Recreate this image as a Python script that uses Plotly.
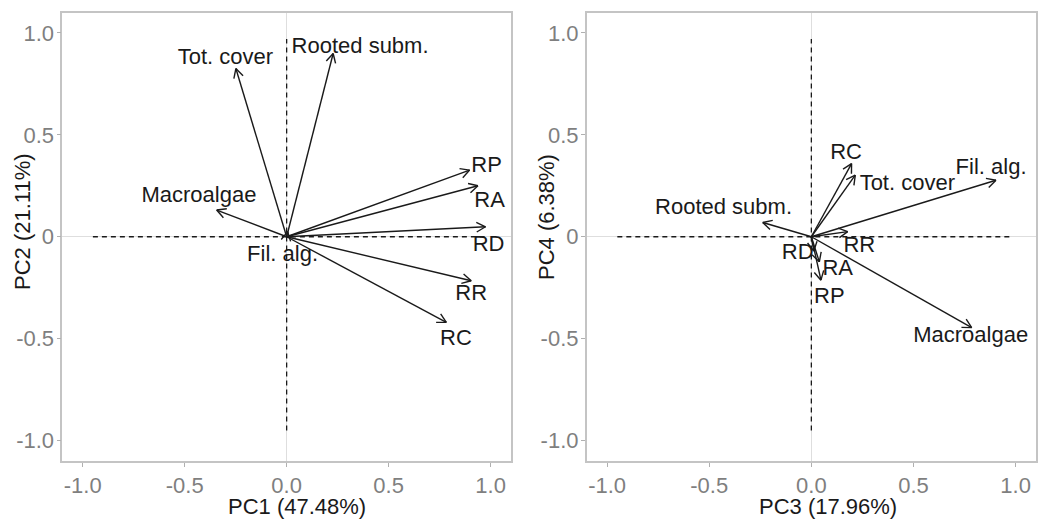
import numpy as np
import plotly.graph_objects as go

# ---- data ----
names_left = ["Tot. cover", "Rooted subm.", "RP", "RA", "RD", "Macroalgae", "Fil. alg.", "RR", "RC"]
pc1 = [-0.249, 0.228, 0.897, 0.938, 0.975, -0.343, 0.005, 0.905, 0.783]
pc2 = [0.825, 0.899, 0.327, 0.250, 0.049, 0.131, 0.025, -0.216, -0.420]
lab_left_x = [-0.30, 0.36, 0.98, 0.995, 0.99, -0.43, -0.02, 0.905, 0.83]
lab_left_y = [0.875, 0.93, 0.343, 0.172, -0.044, 0.196, -0.09, -0.281, -0.503]

names_right = ["RC", "Tot. cover", "Fil. alg.", "Rooted subm.", "RR", "Macroalgae", "RD", "RA", "RP"]
pc3 = [0.197, 0.215, 0.904, -0.238, 0.178, 0.785, 0.012, 0.039, 0.047]
pc4 = [0.359, 0.302, 0.277, 0.070, 0.025, -0.446, -0.070, -0.123, -0.213]
lab_right_x = [0.17, 0.47, 0.88, -0.43, 0.235, 0.78, -0.067, 0.129, 0.088]
lab_right_y = [0.41, 0.258, 0.336, 0.139, -0.049, -0.49, -0.082, -0.159, -0.30]

x_titles = ["PC1 (47.48%)", "PC3 (17.96%)"]
y_titles = ["PC2 (21.11%)", "PC4 (6.38%)"]

x_tickvals = [-1.0, -0.5, 0.0, 0.5, 1.0]
x_ticktext = ["-1.0", "-0.5", "0.0", "0.5", "1.0"]
y_tickvals = [-1.0, -0.5, 0.0, 0.5, 1.0]
y_ticktext = ["-1.0", "-0.5", "0", "0.5", "1.0"]

dash_lo, dash_hi = -0.95, 0.97

# ---- styling ----
W, H = 1038, 519
FONT = "Liberation Sans, Arial, Helvetica, sans-serif"
INK = "#1a1a1a"
HEAD_LEN = 0.05
HEAD_ANG = np.deg2rad(28)

fig = go.Figure()


def arrow_paths(xs, ys):
    px, py = [], []
    for x, y in zip(xs, ys):
        px += [0, x, None]
        py += [0, y, None]
        ang = np.arctan2(y, x)
        for s in (1, -1):
            a = ang + np.pi + s * HEAD_ANG
            px += [x + HEAD_LEN * np.cos(a), x, None]
            py += [y + HEAD_LEN * np.sin(a), y, None]
    return px, py


panels = [
    (pc1, pc2, names_left, lab_left_x, lab_left_y, "x", "y"),
    (pc3, pc4, names_right, lab_right_x, lab_right_y, "x2", "y2"),
]

for xs, ys, names, lx, ly, xa, ya in panels:
    # dashed reference lines
    fig.add_trace(go.Scatter(x=[dash_lo, dash_hi], y=[0, 0], mode="lines",
                             line=dict(color=INK, width=1.3, dash="5px,4px"),
                             xaxis=xa, yaxis=ya, hoverinfo="skip", showlegend=False))
    fig.add_trace(go.Scatter(x=[0, 0], y=[dash_lo, dash_hi], mode="lines",
                             line=dict(color=INK, width=1.3, dash="5px,4px"),
                             xaxis=xa, yaxis=ya, hoverinfo="skip", showlegend=False))
    ax, ay = arrow_paths(xs, ys)
    fig.add_trace(go.Scatter(x=ax, y=ay, mode="lines",
                             line=dict(color=INK, width=1.4),
                             xaxis=xa, yaxis=ya, hoverinfo="skip", showlegend=False))
    fig.add_trace(go.Scatter(x=lx, y=ly, mode="text", text=names,
                             textposition="middle center",
                             textfont=dict(family=FONT, size=22, color=INK),
                             xaxis=xa, yaxis=ya, hoverinfo="skip", showlegend=False))

axis_common = dict(
    range=[-1.1, 1.1], showgrid=False,
    zeroline=True, zerolinecolor="#DEDEDE", zerolinewidth=1.3,
    showline=True, mirror=True, linecolor="#C4C4C4", linewidth=1.6,
    ticks="outside", ticklen=4, tickcolor="#B0B0B0", tickwidth=1.2,
    tickfont=dict(family=FONT, size=22, color="#7F7F7F"),
)

ydom = [1 - 461 / H, 1 - 12.5 / H]
fig.update_layout(
    width=W, height=H,
    margin=dict(l=0, r=0, t=0, b=0),
    paper_bgcolor="white", plot_bgcolor="white",
    xaxis=dict(domain=[62.3 / W, 511 / W], anchor="y", tickvals=x_tickvals, ticktext=x_ticktext,
               ticklabelstandoff=0, **axis_common),
    yaxis=dict(domain=ydom, anchor="x", tickvals=y_tickvals, ticktext=y_ticktext,
               ticklabelstandoff=-2, **axis_common),
    xaxis2=dict(domain=[586.7 / W, 1036 / W], anchor="y2", tickvals=x_tickvals, ticktext=x_ticktext,
                ticklabelstandoff=0, **axis_common),
    yaxis2=dict(domain=ydom, anchor="x2", tickvals=y_tickvals, ticktext=y_ticktext,
                ticklabelstandoff=-2, **axis_common),
    showlegend=False,
)

# axis titles
title_font = dict(family=FONT, size=22, color=INK)
x_title_px = [297, 828]
y_title_px_x = [22, 546]
y_title_px_y = [222, 217]
for i in range(2):
    fig.add_annotation(text=x_titles[i], xref="paper", yref="paper",
                       x=x_title_px[i] / W, y=1 - 506 / H, showarrow=False,
                       font=title_font, xanchor="center", yanchor="middle")
    fig.add_annotation(text=y_titles[i], xref="paper", yref="paper",
                       x=y_title_px_x[i] / W, y=1 - y_title_px_y[i] / H, showarrow=False,
                       font=title_font, textangle=-90, xanchor="center", yanchor="middle")

fig.write_html("out.html", config={"displayModeBar": False},
               post_script="document.body.style.margin='0';document.body.style.overflow='hidden';")
